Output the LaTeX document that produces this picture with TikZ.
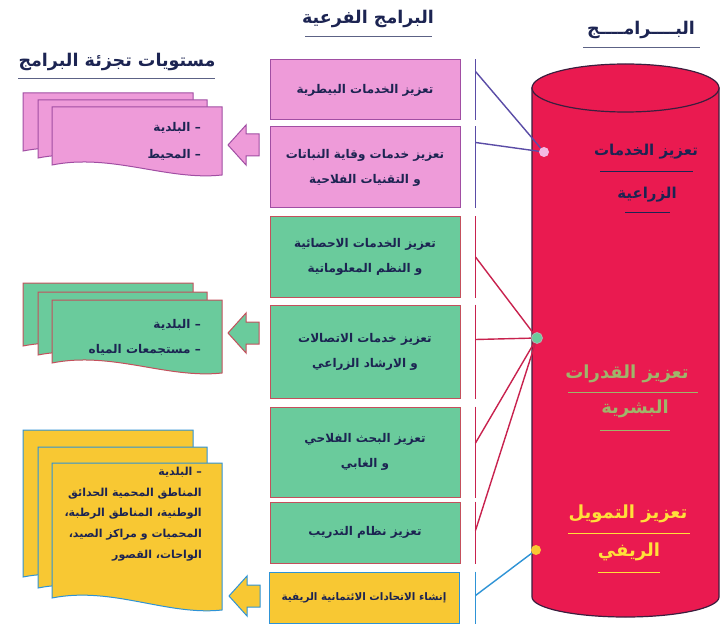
\documentclass[tikz,border=0pt]{standalone}
\usepackage{fontspec}
\newfontfamily\arfont[Script=Arabic]{DejaVu Sans}
\TeXXeTstate=1
\usetikzlibrary{calc}
\newcommand\AR[1]{{\arfont\bfseries\beginR #1\endR}}
\definecolor{navy}{HTML}{1C2452}
\definecolor{pinkf}{HTML}{EE9BD9}
\definecolor{pinkd}{HTML}{A14EA3}
\definecolor{greenf}{HTML}{6ACB9C}
\definecolor{greend}{HTML}{C4505C}
\definecolor{yelf}{HTML}{F8C833}
\definecolor{blued}{HTML}{2E93D6}
\definecolor{purp}{HTML}{5A4CA6}
\definecolor{crim}{HTML}{C8224E}
\definecolor{cylf}{HTML}{EA1A50}
\definecolor{cyld}{HTML}{3B1E3E}
\definecolor{olivet}{HTML}{9FB56A}
\definecolor{goldt}{HTML}{FFE03A}
\definecolor{ulgrey}{HTML}{5C6285}
\newcommand\docsheet[7]{\filldraw[fill=#1, draw=#2, line width=1pt] (#3,#4) -- (#5,#4) -- (#5,#7) .. controls ({#5-55},{#7+6}) and ({#3+60},{#6-12}) .. (#3,#6) -- cycle;}
\newcommand\blockarrow[4]{\filldraw[fill=#1, draw=#2, line width=1pt] (#3,#4) -- ({#3+18},{#4-20}) -- ({#3+18},{#4-11}) -- ({#3+31},{#4-11}) -- ({#3+31},{#4+11}) -- ({#3+18},{#4+11}) -- ({#3+18},{#4+20}) -- cycle;}
\begin{document}
\begin{tikzpicture}[x=1pt,y=-1pt,
  box/.style={draw, line width=1pt, minimum width=190pt, text=navy, align=center,
    font=\fontsize{12}{25}\selectfont, inner sep=0pt},
  title/.style={text=navy, font=\fontsize{17.5}{20}\selectfont, inner sep=0pt},
  sheettext/.style={text=navy, font=\fontsize{12}{20}\selectfont, inner sep=0pt, align=right},
  cyltext/.style={font=\fontsize{15}{18}\selectfont, inner sep=0pt},
  dot/.style={circle, inner sep=0pt, minimum size=10pt},
  conn/.style={line width=1.4pt}]
\useasboundingbox (0,0) rectangle (722,628);
\fill[white] (0,0) rectangle (722,628);

% titles
\node[title] (t1) at (641,30) {\AR{البــــرامــــج}};
\draw[ulgrey, line width=1pt] (583,48) -- (700,48);
\node[title] (t2) at (368,19) {\AR{البرامج الفرعية}};
\draw[ulgrey, line width=1pt] (305,37) -- (432,37);
\node[title] (t3) at (117,62) {\AR{مستويات تجزئة البرامج}};
\draw[ulgrey, line width=1pt] (18,79) -- (215,79);

% cylinder
\filldraw[fill=cylf, draw=cyld, line width=1.2pt] (532,88) -- (532,597) arc[start angle=180, end angle=360, x radius=93.5pt, y radius=20pt] -- (719,88) -- cycle;
\filldraw[fill=cylf, draw=cyld, line width=1.2pt] (625.5,88) ellipse[x radius=93.5pt, y radius=24pt];

\node[cyltext, text=navy] (c1) at (646,152) {\AR{تعزيز الخدمات}};
\draw[navy, line width=1pt] (600,172) -- (693,172);
\node[cyltext, text=navy] (c2) at (647,195) {\AR{الزراعية}};
\draw[navy, line width=1pt] (625,213) -- (670,213);
\node[cyltext, text=olivet, font=\fontsize{18}{20}\selectfont] (c3) at (627,374) {\AR{تعزيز القدرات}};
\draw[olivet, line width=1pt] (568,392) -- (698,392);
\node[cyltext, text=olivet, font=\fontsize{18}{20}\selectfont] (c4) at (635,409) {\AR{البشرية}};
\draw[olivet, line width=1pt] (600,430) -- (670,430);
\node[cyltext, text=goldt, font=\fontsize{18}{20}\selectfont] (c5) at (628,514) {\AR{تعزيز التمويل}};
\draw[goldt, line width=1pt] (568,533) -- (690,533);
\node[cyltext, text=goldt, font=\fontsize{18}{20}\selectfont] (c6) at (629,552) {\AR{الريفي}};
\draw[goldt, line width=1pt] (598,572) -- (660,572);

% dots
\node[dot, fill=pinkf!70!white] (d1) at (544,152) {};
\node[dot, fill=greenf, draw=gray!60, line width=0.8pt, minimum size=11pt] (d2) at (537,338) {};
\node[dot, fill=yelf] (d3) at (536,550) {};

% sub-programme boxes
\node[box, fill=pinkf, draw=pinkd, minimum height=60pt] (b1) at (365,90) {\AR{تعزيز الخدمات البيطرية}};
\node[box, fill=pinkf, draw=pinkd, minimum height=81pt] (b2) at (365,167.5) {\AR{تعزيز خدمات وقاية النباتات}\\\AR{و التقنيات الفلاحية}};
\node[box, fill=greenf, draw=greend, minimum height=80pt] (b3) at (365,257) {\AR{تعزيز الخدمات الاحصائية}\\\AR{و النظم المعلوماتية}};
\node[box, fill=greenf, draw=greend, minimum height=93pt] (b4) at (365,351.5) {\AR{تعزيز خدمات الاتصالات}\\\AR{و الارشاد الزراعي}};
\node[box, fill=greenf, draw=greend, minimum height=90pt] (b5) at (365,452) {\AR{تعزيز البحث الفلاحي}\\\AR{و الغابي}};
\node[box, fill=greenf, draw=greend, minimum height=61pt] (b6) at (365,532.5) {\AR{تعزيز نظام التدريب}};
\node[box, fill=yelf, draw=blued, minimum height=51pt, font=\fontsize{10.4}{20}\selectfont] (b7) at (364,597.5) {\AR{إنشاء الاتحادات الائتمانية الريفية}};

% brackets and connectors
\draw[purp, conn] ($(b1.north east)+(15,0)$) -- ($(b1.south east)+(15,0)$);
\draw[purp, conn] ($(b2.north east)+(15,0)$) -- ($(b2.south east)+(15,0)$);
\draw[crim, conn] ($(b3.north east)+(15,0)$) -- ($(b3.south east)+(15,0)$);
\draw[crim, conn] ($(b4.north east)+(15,0)$) -- ($(b4.south east)+(15,0)$);
\draw[crim, conn] ($(b5.north east)+(15,0)$) -- ($(b5.south east)+(15,0)$);
\draw[crim, conn] ($(b6.north east)+(15,0)$) -- ($(b6.south east)+(15,0)$);
\draw[blued, conn] ($(b7.north east)+(16,0)$) -- ($(b7.south east)+(16,0)$);
\coordinate (k1) at ($(b1.north east)+(15,12)$);
\coordinate (k2) at ($(b2.north east)+(15,16)$);
\coordinate (k3) at ($(b3.east)+(15,0)$);
\coordinate (k4) at ($(b4.north east)+(15,35)$);
\coordinate (k5) at ($(b5.east)+(15,-9)$);
\coordinate (k6) at ($(b6.east)+(15,-2)$);
\coordinate (k7) at ($(b7.east)+(16,-2)$);
\draw[purp, conn] (k1) -- (d1);
\draw[purp, conn] (k2) -- (d1);
\draw[crim, conn] (k3) -- (d2);
\draw[crim, conn] (k4) -- (d2);
\draw[crim, conn] (k5) -- (d2);
\draw[crim, conn] (k6) -- (d2);
\draw[blued, conn] (k7) -- (d3);

% document stacks
\docsheet{pinkf}{pinkd}{23}{93}{193}{151}{161}
\docsheet{pinkf}{pinkd}{38}{100}{207}{158}{168}
\docsheet{pinkf}{pinkd}{52}{107}{222}{165}{175}
\node[sheettext, anchor=east] (p1) at (201,128) {\AR{– البلدية}};
\node[sheettext, anchor=east] (p2) at (201,155) {\AR{– المحيط}};

\docsheet{greenf}{greend}{23}{283}{193}{346}{356}
\docsheet{greenf}{greend}{38}{292}{207}{355}{365}
\docsheet{greenf}{greend}{52}{300}{222}{363}{373}
\node[sheettext, anchor=east] (g1) at (201,325) {\AR{– البلدية}};
\node[sheettext, anchor=east] (g2) at (201,350) {\AR{– مستجمعات المياه}};

\docsheet{yelf}{blued}{23}{430}{193}{577}{589}
\docsheet{yelf}{blued}{38}{447}{207}{588}{600}
\docsheet{yelf}{blued}{52}{463}{222}{598}{610}
\node[sheettext, anchor=north east, font=\fontsize{11}{20.7}\selectfont] (y1) at (202,467) {\AR{– البلدية}\\\AR{المناطق المحمية الحدائق}\\\AR{الوطنية، المناطق الرطبة،}\\\AR{المحميات و مراكز الصيد،}\\\AR{الواحات، القصور}};

% block arrows
\blockarrow{pinkf}{pinkd}{228}{145}
\blockarrow{greenf}{greend}{228}{333}
\blockarrow{yelf}{blued}{229}{596}
\end{tikzpicture}
\end{document}
